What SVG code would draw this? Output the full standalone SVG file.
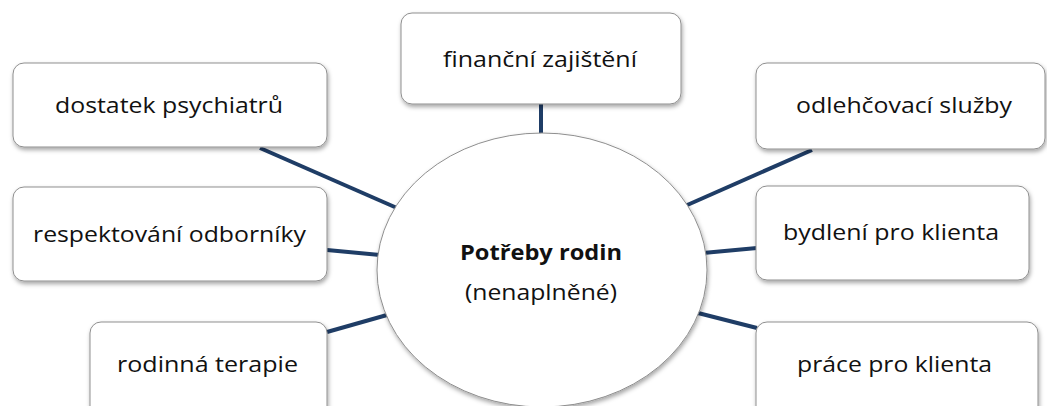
<svg xmlns="http://www.w3.org/2000/svg" width="1047" height="406" viewBox="0 0 1047 406">
<defs>
<filter id="sh" x="-10%" y="-10%" width="120%" height="130%">
<feDropShadow dx="1" dy="2.5" stdDeviation="2" flood-color="#000" flood-opacity="0.35"/>
</filter>
<style>
.box{fill:#fff;stroke:#8f8f8f;stroke-width:1;filter:url(#sh)}
.lbl{font-family:"Open Sans","Noto Sans","Liberation Sans",sans-serif;font-size:22px;fill:#111;text-anchor:middle}
.con{stroke:#1f3d66;stroke-width:4;fill:none}
</style>
</defs>
<rect width="1047" height="406" fill="#fff"/>
<g id="connectors">
<line class="con" x1="541" y1="104" x2="541" y2="135"/>
<line class="con" x1="260" y1="148" x2="397" y2="208"/>
<line class="con" x1="327" y1="250" x2="380" y2="255"/>
<line class="con" x1="327" y1="332" x2="387" y2="315"/>
<line class="con" x1="685" y1="206" x2="812" y2="150"/>
<line class="con" x1="703" y1="253" x2="757" y2="248"/>
<line class="con" x1="698" y1="313" x2="757" y2="328"/>
</g>
<g id="center">
<ellipse cx="542" cy="270" rx="165" ry="137" fill="#fff" stroke="#8f8f8f" stroke-width="1" filter="url(#sh)"/>
<text class="lbl" x="541" y="260" font-weight="bold" textLength="162" lengthAdjust="spacingAndGlyphs">Potřeby rodin</text>
<text class="lbl" x="541" y="300" textLength="152" lengthAdjust="spacingAndGlyphs">(nenaplněné)</text>
</g>
<g id="financni">
<rect class="box" x="401" y="13" width="280" height="91" rx="11"/>
<text class="lbl" x="540" y="67" textLength="194" lengthAdjust="spacingAndGlyphs">finanční zajištění</text>
</g>
<g id="dostatek">
<rect class="box" x="13" y="63" width="314" height="84" rx="11"/>
<text class="lbl" x="169" y="113" textLength="228" lengthAdjust="spacingAndGlyphs">dostatek psychiatrů</text>
</g>
<g id="respektovani">
<rect class="box" x="13" y="187" width="314" height="94" rx="11"/>
<text class="lbl" x="169.5" y="242" textLength="273" lengthAdjust="spacingAndGlyphs">respektování odborníky</text>
</g>
<g id="rodinna">
<rect class="box" x="90" y="322" width="237" height="100" rx="11"/>
<text class="lbl" x="207.5" y="372" textLength="181" lengthAdjust="spacingAndGlyphs">rodinná terapie</text>
</g>
<g id="odlehcovaci">
<rect class="box" x="756" y="63" width="289" height="86" rx="11"/>
<text class="lbl" x="904" y="113" textLength="216" lengthAdjust="spacingAndGlyphs">odlehčovací služby</text>
</g>
<g id="bydleni">
<rect class="box" x="756" y="186" width="273" height="94" rx="11"/>
<text class="lbl" x="891" y="240" textLength="216" lengthAdjust="spacingAndGlyphs">bydlení pro klienta</text>
</g>
<g id="prace">
<rect class="box" x="756" y="322" width="282" height="100" rx="11"/>
<text class="lbl" x="894.5" y="372" textLength="195" lengthAdjust="spacingAndGlyphs">práce pro klienta</text>
</g>
</svg>
